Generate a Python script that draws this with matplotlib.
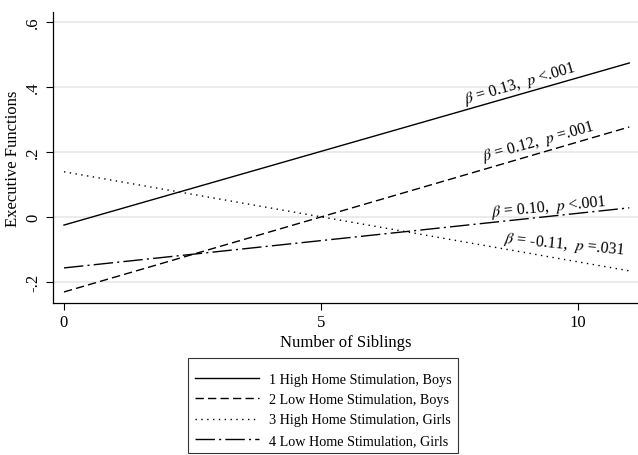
import numpy as np
import matplotlib
matplotlib.use("Agg")
import matplotlib.pyplot as plt

# ── data ─────────────────────────────────────────────────────────────────────
SIBLINGS   = [0, 11]
HIGH_BOYS  = [-0.025, 0.474]
LOW_BOYS   = [-0.231, 0.277]
HIGH_GIRLS = [0.139, -0.166]
LOW_GIRLS  = [-0.157, 0.028]

LABELS = [
    "1 High Home Stimulation, Boys",
    "2 Low Home Stimulation, Boys",
    "3 High Home Stimulation, Girls",
    "4 Low Home Stimulation, Girls",
]
ANNOTS = [
    r"$\beta$ = 0.13,  $p$ <.001",
    r"$\beta$ = 0.12,  $p$ =.001",
    r"$\beta$ = -0.11,  $p$ =.031",
    r"$\beta$ = 0.10,  $p$ <.001",
]
ANNOT_XY  = [(8.88, 0.412), (9.24, 0.234), (9.73, -0.083), (9.44, 0.031)]
ANNOT_ROT = [16.5, 15.5, -5.5, 5.5]

YTICKS      = [-0.2, 0, 0.2, 0.4, 0.6]
YTICKLABELS = ["-.2", "0", ".2", ".4", ".6"]
XTICKS      = [0, 5, 10]

plt.rcParams["font.family"] = ["Liberation Serif", "DejaVu Serif"]
plt.rcParams["mathtext.fontset"] = "stix"

fig = plt.figure(figsize=(6.38, 4.56), dpi=100)
ax = fig.add_axes([53 / 638, 1 - 304 / 456, 1 - 53 / 638, (304 - 13) / 456])

styles = [
    dict(linestyle="-"),
    dict(linestyle=(0, (6, 3))),
    dict(linestyle=(0, (1, 3.2))),
    dict(linestyle=(0, (14, 3, 1.5, 3))),
]
series = [HIGH_BOYS, LOW_BOYS, HIGH_GIRLS, LOW_GIRLS]
for vals, lab, st in zip(series, LABELS, styles):
    ax.plot(SIBLINGS, vals, color="black", lw=1.0, label=lab, **st)

for txt, (x, y), rot in zip(ANNOTS, ANNOT_XY, ANNOT_ROT):
    ax.text(x, y, txt, rotation=rot, rotation_mode="anchor",
            ha="center", va="center", fontsize=11.5)

ax.set_xlim(-0.214, 11.17)
ax.set_ylim(-0.265, 0.631)
ax.set_yticks(YTICKS)
ax.set_yticklabels(YTICKLABELS, rotation=90, va="center")
ax.set_xticks(XTICKS)
ax.tick_params(axis="both", labelsize=12, length=5, width=0.8, color="black")
ax.tick_params(axis="x", pad=3)
ax.grid(axis="y", color="#e8e8e8", lw=1.2)
ax.set_axisbelow(True)
for s in ["top", "right"]:
    ax.spines[s].set_visible(False)
for s in ["left", "bottom"]:
    ax.spines[s].set_linewidth(0.9)

ax.set_ylabel("Executive Functions", fontsize=12, labelpad=3)
ax.set_xlabel("Number of Siblings", fontsize=12, labelpad=3)

# tiny blank title gives the extra top padding without widening the box
leg = fig.legend(loc="upper center", bbox_to_anchor=(323 / 638, 1 - 359 / 456),
                 fontsize=10.2, frameon=True, fancybox=False, edgecolor="black",
                 handlelength=4.5, handletextpad=0.7, labelspacing=0.52,
                 borderpad=0.45, borderaxespad=0, title=" ", title_fontsize=1)
leg.get_frame().set_linewidth(0.8)

fig.savefig("out.png", dpi=100)
